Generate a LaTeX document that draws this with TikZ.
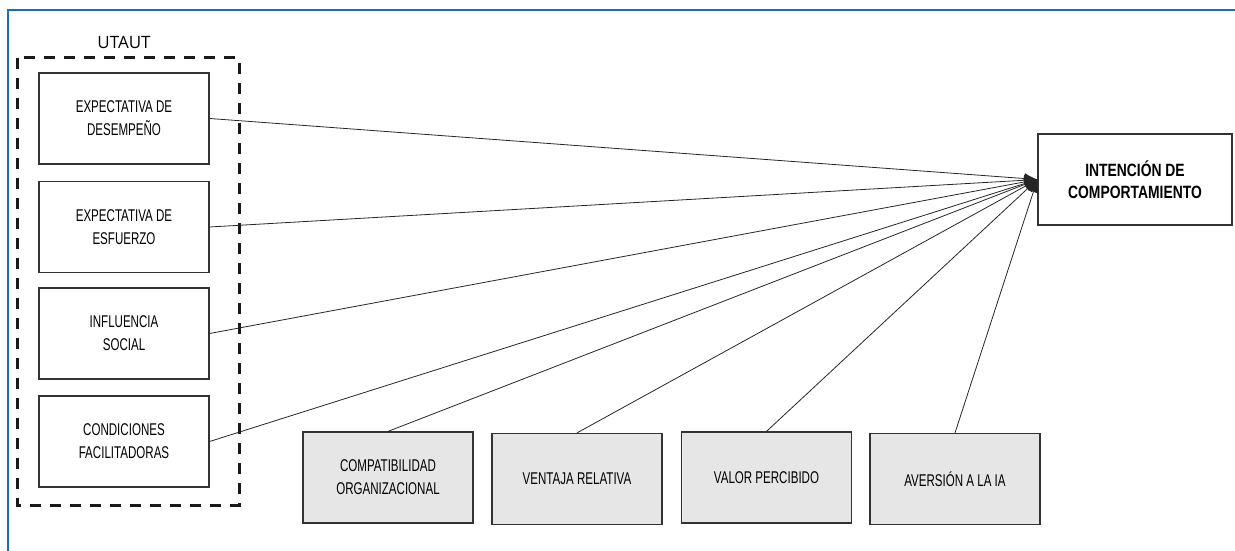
\documentclass[tikz,border=0pt]{standalone}
\usepackage{fontspec}
\setmainfont{Open Sans}
\newfontfamily\condfont[FakeStretch=0.68]{Liberation Sans}
\newfontfamily\condbold[FakeStretch=0.78]{Liberation Sans Bold}
\usetikzlibrary{arrows.meta}
\definecolor{frameblue}{RGB}{28,110,178}
\definecolor{boxgray}{RGB}{230,230,230}
\tikzset{
  constr/.style={draw=black!80, line width=1.2pt, minimum width=170pt, minimum height=91pt,
    inner sep=0pt, align=center, font=\condfont\fontsize{17}{23}\selectfont, text=black},
  extra/.style={constr, fill=boxgray},
  target/.style={draw=black!80, line width=1.2pt, minimum width=194pt, minimum height=91pt,
    inner sep=0pt, align=center, font=\condbold\fontsize{17.8}{22}\selectfont, text=black},
  link/.style={draw=black!85, line width=0.8pt, -{Latex[length=13pt,width=11pt]}}
}
\begin{document}
\begin{tikzpicture}[x=1pt,y=-1pt]
\useasboundingbox (0,0) rectangle (1235,551);
\draw[frameblue, line width=2pt] (8,551) -- (8,10) -- (1235,10);
% UTAUT group
\draw[black!90, line width=3pt, dash pattern=on 11pt off 9pt] (17,58) rectangle (239,505);
\node[font=\fontsize{17}{20}\selectfont, text=black] (utaut) at (124,42) {UTAUT};
% left constructs
\node[constr] (pe) at (124,118.5) {EXPECTATIVA DE\\DESEMPEÑO};
\node[constr] (ee) at (124,227) {EXPECTATIVA DE\\ESFUERZO};
\node[constr] (si) at (124,333.5) {INFLUENCIA\\SOCIAL};
\node[constr] (fc) at (124,441.5) {CONDICIONES\\FACILITADORAS};
% extra constructs
\node[extra] (co) at (388,477.5) {COMPATIBILIDAD\\ORGANIZACIONAL};
\node[extra] (vr) at (577,479) {VENTAJA RELATIVA};
\node[extra] (vp) at (766.5,477.5) {VALOR PERCIBIDO};
\node[extra] (ai) at (955,479) {AVERSIÓN A LA IA};
% target
\node[target] (bi) at (1135,179.5) {INTENCIÓN DE\\COMPORTAMIENTO};
% links
\foreach \s in {pe,ee,si,fc}{\draw[link] (\s.east) -- (bi.west);}
\foreach \s in {co,vr,vp,ai}{\draw[link] (\s.north) -- (bi.west);}
\end{tikzpicture}
\end{document}
